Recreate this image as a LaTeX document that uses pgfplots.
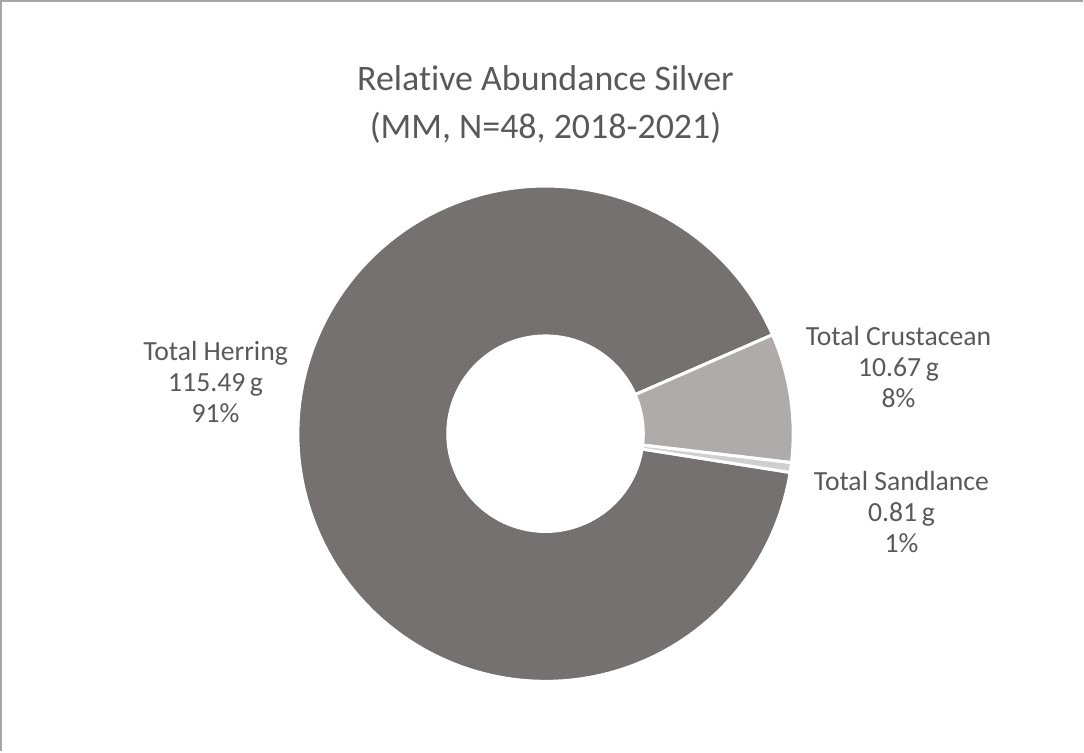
\documentclass[border=0pt]{standalone}
\usepackage{pgfplots}
\pgfplotsset{compat=1.18}
\usepackage{pgfplotstable}
\usepackage{fontspec}
\setmainfont{Carlito}[Ligatures=NoCommon]

\definecolor{cHerring}{HTML}{767171}
\definecolor{cCrust}{HTML}{AFABAB}
\definecolor{cSand}{HTML}{D0CECE}
\definecolor{txt}{HTML}{595959}
\definecolor{frame}{HTML}{A6A6A6}

% grams per group, in the order Excel draws them (clockwise)
\pgfplotstableread{
group      grams
Herring    115.49
Crustacean 10.67
Sandlance  0.81
}\donut

\begin{document}
\begin{tikzpicture}[font=\color{txt}]
\pgfplotstablegetelem{0}{grams}\of\donut \let\vH\pgfplotsretval
\pgfplotstablegetelem{1}{grams}\of\donut \let\vC\pgfplotsretval
\pgfplotstablegetelem{2}{grams}\of\donut \let\vS\pgfplotsretval
\pgfmathsetmacro\tot{\vH+\vC+\vS}
% first slice starts at -9 deg (math), slices run clockwise
\pgfmathsetmacro\aA{-9}
\pgfmathsetmacro\aB{\aA-360*(\vH/\tot)}
\pgfmathsetmacro\aC{\aB-360*(\vC/\tot)}
\pgfmathsetmacro\aD{\aC-360*(\vS/\tot)}
\def\cx{548}\def\cy{316.5}\def\R{247}\def\r{99}
\begin{axis}[
    scale only axis,
    width=542pt, height=375pt,
    xmin=0, xmax=1084, ymin=0, ymax=750,
    hide axis, clip=false,
]
\addplot[fill=cHerring, draw=white, line width=1.5pt, domain=\aB:\aA, samples=150, variable=\t]
    ({\cx+\R*cos(\t)},{\cy+\R*sin(\t)}) -- (\cx,\cy) -- cycle;
\addplot[fill=cCrust, draw=white, line width=1.5pt, domain=\aC:\aB, samples=30, variable=\t]
    ({\cx+\R*cos(\t)},{\cy+\R*sin(\t)}) -- (\cx,\cy) -- cycle;
\addplot[fill=cSand, draw=white, line width=1.5pt, domain=\aD:\aC, samples=5, variable=\t]
    ({\cx+\R*cos(\t)},{\cy+\R*sin(\t)}) -- (\cx,\cy) -- cycle;
\addplot[fill=white, draw=none, domain=0:360, samples=120, variable=\t]
    ({\cx+\r*cos(\t)},{\cy+\r*sin(\t)}) -- cycle;

\node[align=center, font=\fontsize{17.9}{24}\selectfont\color{txt}] at (548,645)
    {Relative Abundance Silver\\(MM, N=48, 2018-2021)};
\node[align=center, font=\fontsize{13.8}{15.5}\selectfont\color{txt}] at (219,368)
    {Total Herring\\115.49\,g\\91\%};
\node[align=center, font=\fontsize{13.8}{15.5}\selectfont\color{txt}] at (900,383)
    {Total Crustacean\\10.67\,g\\8\%};
\node[align=center, font=\fontsize{13.8}{15.5}\selectfont\color{txt}] at (903,238)
    {Total Sandlance\\0.81\,g\\1\%};

\draw[frame, line width=1pt] (5,0) -- (5,748) -- (1084,748);
\end{axis}
\end{tikzpicture}
\end{document}
